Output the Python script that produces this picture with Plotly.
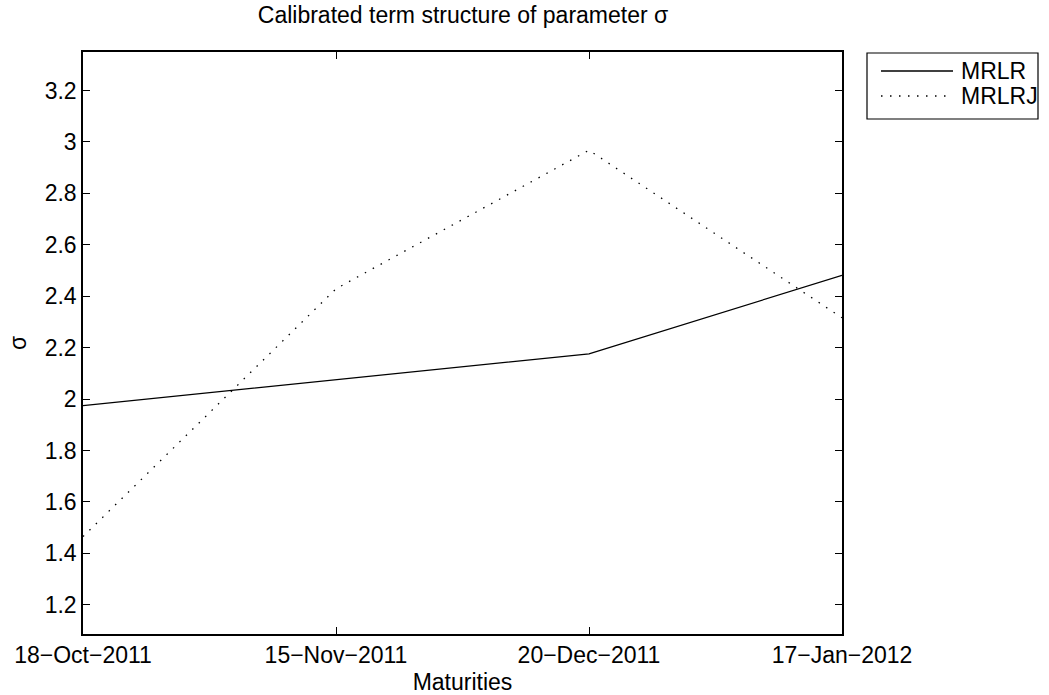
import plotly.graph_objects as go

# ---- data ----
maturities = ["18\u2212Oct\u22122011", "15\u2212Nov\u22122011", "20\u2212Dec\u22122011", "17\u2212Jan\u22122012"]
x_index = [1, 2, 3, 4]
mrlr = [1.974, 2.074, 2.176, 2.481]
mrlrj = [1.465, 2.429, 2.968, 2.316]
y_ticks = [1.2, 1.4, 1.6, 1.8, 2.0, 2.2, 2.4, 2.6, 2.8, 3.0, 3.2]
y_ticklabels = ["1.2", "1.4", "1.6", "1.8", "2", "2.2", "2.4", "2.6", "2.8", "3", "3.2"]
series_names = ["MRLR", "MRLRJ"]

FONT = "Liberation Sans, Arial, Helvetica, sans-serif"
FS = 23

W, H = 1049, 695
L, R, T, B = 83, 207, 52, 61
pw, ph = W - L - R, H - T - B


def px_to_paper_x(px):
    return (px - L) / pw


def px_to_paper_y(py):
    return (H - B - py) / ph


fig = go.Figure()
fig.add_trace(go.Scatter(x=x_index, y=mrlr, mode="lines", name=series_names[0],
                         line=dict(color="black", width=1.3), showlegend=False))
fig.add_trace(go.Scatter(x=x_index, y=mrlrj, mode="lines", name=series_names[1],
                         line=dict(color="black", width=1.3, dash="1.5px,7.5px"), showlegend=False))

# manual MATLAB-style legend
shapes = [
    dict(type="rect", xref="paper", yref="paper",
         x0=px_to_paper_x(867), x1=px_to_paper_x(1038),
         y0=px_to_paper_y(119), y1=px_to_paper_y(53),
         line=dict(color="black", width=1.2), fillcolor="white", layer="above"),
    dict(type="line", xref="paper", yref="paper",
         x0=px_to_paper_x(881), x1=px_to_paper_x(953),
         y0=px_to_paper_y(71), y1=px_to_paper_y(71),
         line=dict(color="black", width=1.3)),
    dict(type="line", xref="paper", yref="paper",
         x0=px_to_paper_x(881), x1=px_to_paper_x(953),
         y0=px_to_paper_y(96), y1=px_to_paper_y(96),
         line=dict(color="black", width=1.3, dash="1.5px,7.5px")),
]
annotations = [
    dict(text=series_names[0], xref="paper", yref="paper",
         x=px_to_paper_x(959), y=px_to_paper_y(71), xanchor="left", yanchor="middle",
         showarrow=False, font=dict(family=FONT, size=FS, color="black")),
    dict(text=series_names[1], xref="paper", yref="paper",
         x=px_to_paper_x(959), y=px_to_paper_y(96), xanchor="left", yanchor="middle",
         showarrow=False, font=dict(family=FONT, size=FS, color="black")),
]

fig.update_layout(
    width=W, height=H,
    margin=dict(l=L, r=R, t=T, b=B, pad=0, autoexpand=False),
    paper_bgcolor="white", plot_bgcolor="white",
    font=dict(family=FONT, size=FS, color="black"),
    title=dict(text="Calibrated term structure of parameter σ", x=px_to_paper_x(463), xref="paper",
               xanchor="center", y=1 - 15 / H, yanchor="middle",
               font=dict(family=FONT, size=FS, color="black")),
    shapes=shapes,
    annotations=annotations,
    showlegend=False,
)
fig.update_xaxes(
    range=[1, 4], tickmode="array", tickvals=x_index, ticktext=maturities,
    showgrid=False, zeroline=False, showline=True, linecolor="black", linewidth=1.5,
    mirror="ticks", ticks="inside", ticklen=7, tickwidth=1, tickcolor="black",
    automargin=False,
    title=dict(text="Maturities", standoff=8, font=dict(family=FONT, size=FS)),
)
fig.update_yaxes(
    range=[1.086, 3.35], tickmode="array", tickvals=y_ticks, ticktext=y_ticklabels,
    showgrid=False, zeroline=False, showline=True, linecolor="black", linewidth=1.5,
    mirror="ticks", ticks="inside", ticklen=7, tickwidth=1, tickcolor="black",
    automargin=False,
    title=dict(text="σ", standoff=12, font=dict(family=FONT, size=FS)),
)

fig.write_html("out.html")
